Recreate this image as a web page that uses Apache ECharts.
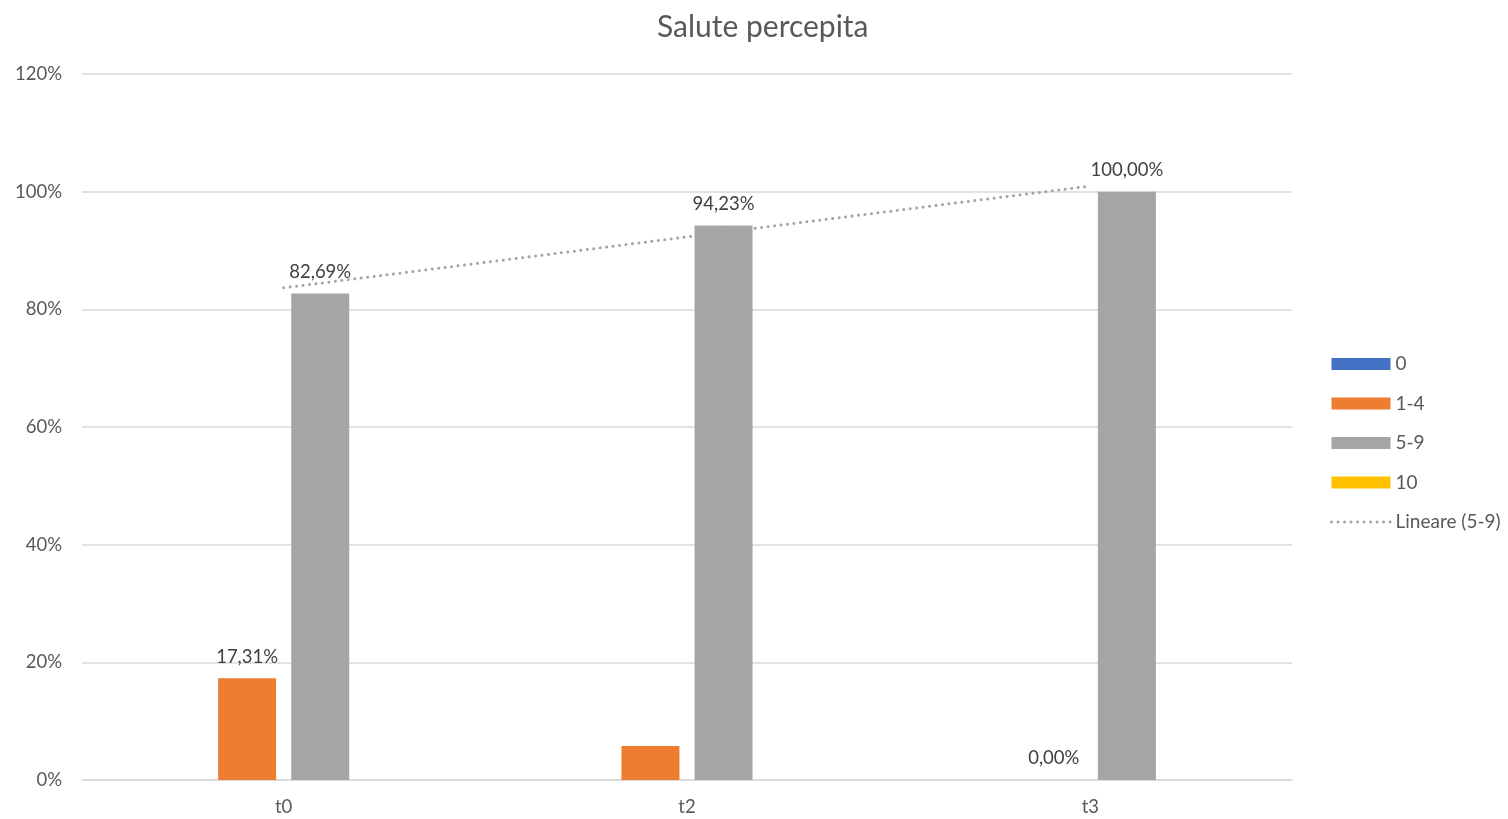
<!DOCTYPE html>
<html><head><meta charset="utf-8">
<script src="https://cdn.jsdelivr.net/npm/echarts@6/dist/echarts.min.js"></script>
<style>html,body{margin:0;padding:0;background:#fff}#c{width:1508px;height:819px}</style>
</head><body><div id="c"></div>
<script>
const categories = ['t0', 't2', 't3'];
const s0 = [0, 0, 0];
const s14 = [17.31, 5.77, 0];
const s59 = [82.69, 94.23, 100];
const s10 = [0, 0, 0];
const trend59 = [83.65, 92.31, 100.96];
const yTicks = [0, 20, 40, 60, 80, 100, 120];
const labelShow14 = [true, false, true];
const labelShow59 = [true, true, true];

const FONT = 'Lato, "Open Sans", sans-serif';
const fmt = p => p.value.toFixed(2).replace('.', ',') + '%';
function items(vals, shows) {
  return vals.map((v, i) => ({ value: v, label: { show: shows[i] } }));
}
const chart = echarts.init(document.getElementById('c'));
const barLabel = { position: 'top', formatter: fmt, color: '#404040', fontSize: 18.5, fontFamily: FONT, distance: 12 };
const trendLine = { color: '#A5A5A5', width: 3, type: [0.01, 6.5], cap: 'round' };
chart.setOption({
  animation: false,
  title: { text: 'Salute percepita', left: 652, top: 7, textStyle: { fontFamily: FONT, fontSize: 30, fontWeight: 'normal', color: '#595959' } },
  grid: { left: 82, right: 216, top: 74, bottom: 39, containLabel: false },
  legend: {
    orient: 'vertical', left: 1325, top: 349, itemWidth: 59, itemHeight: 12, itemGap: 19.5,
    textStyle: { fontFamily: FONT, fontSize: 19, color: '#595959', lineHeight: 20 },
    data: [
      { name: '0', icon: 'rect' },
      { name: '1-4', icon: 'rect' },
      { name: '5-9', icon: 'rect' },
      { name: '10', icon: 'rect' },
      { name: 'Lineare (5-9)', itemStyle: { color: 'rgba(0,0,0,0)', borderWidth: 0 }, lineStyle: trendLine }
    ]
  },
  xAxis: {
    type: 'category', data: categories,
    axisLine: { lineStyle: { color: '#d9d9d9', width: 1.5 } }, axisTick: { show: false },
    axisLabel: { color: '#595959', fontSize: 18.5, fontFamily: FONT, margin: 18 }
  },
  yAxis: {
    type: 'value', min: yTicks[0], max: yTicks[yTicks.length - 1], interval: 20,
    axisLine: { show: false }, axisTick: { show: false },
    axisLabel: { formatter: '{value}%', color: '#595959', fontSize: 18.5, fontFamily: FONT, margin: 20 },
    splitLine: { lineStyle: { color: '#d9d9d9', width: 1.5 } }
  },
  series: [
    { name: '0', type: 'bar', data: s0, barWidth: 58, barGap: '26%', itemStyle: { color: '#4472C4' } },
    { name: '1-4', type: 'bar', data: items(s14, labelShow14), barWidth: 58, barGap: '26%', itemStyle: { color: '#ED7D31' }, label: barLabel },
    { name: '5-9', type: 'bar', data: items(s59, labelShow59), barWidth: 58, barGap: '26%', itemStyle: { color: '#A5A5A5' }, label: barLabel },
    { name: '10', type: 'bar', data: s10, barWidth: 58, barGap: '26%', itemStyle: { color: '#FFC000' } },
    { name: 'Lineare (5-9)', type: 'line', data: trend59, symbol: 'none', z: 5,
      lineStyle: trendLine, itemStyle: { color: '#A5A5A5' } }
  ]
});
</script></body></html>
